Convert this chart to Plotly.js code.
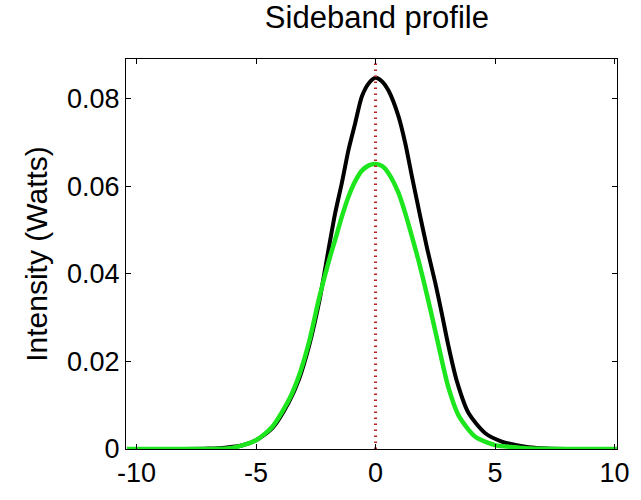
<!DOCTYPE html>
<html>
<head>
<meta charset="utf-8">
<script src="https://cdn.plot.ly/plotly-3.0.1.min.js"></script>
<style>html,body{margin:0;padding:0;background:#fff;}#chart{width:641px;height:500px;}</style>
</head>
<body>
<div id="chart"></div>
<script>
// Black profile
var blackX = [-10.4, -8, -7, -6.3, -5.6, -5.0, -4.3, -3.62, -3.2, -2.78, -2.36, -1.97, -1.69, -1.41, -1.13, -0.85, -0.57, -0.25, 0, 0.25, 0.54, 0.96, 1.24, 1.52, 1.87, 2.17, 2.50, 2.77, 3.05, 3.40, 3.89, 4.59, 5.28, 5.85, 6.4, 7.2, 8, 10.2];
var blackY = [0, 0, 0.0001, 0.0003, 0.0008, 0.0020, 0.0049, 0.0108, 0.0160, 0.0236, 0.0336, 0.0455, 0.0539, 0.0608, 0.0684, 0.0745, 0.0806, 0.0838, 0.0848, 0.0841, 0.0819, 0.0760, 0.0699, 0.0623, 0.0531, 0.0455, 0.0379, 0.0310, 0.0235, 0.0155, 0.0082, 0.0036, 0.0017, 0.0009, 0.0004, 0.0001, 0, 0];

// Green profile
var greenX = [-10.4, -7, -6.2, -5.8, -5.0, -4.32, -3.62, -3.2, -2.78, -2.36, -1.90, -1.69, -1.41, -1.13, -0.85, -0.57, -0.28, 0, 0.28, 0.54, 0.96, 1.24, 1.52, 1.80, 2.05, 2.36, 2.66, 3.05, 3.47, 4.17, 5.0, 5.85, 6.5, 8, 10.2];
var greenY = [0, 0, 0.0001, 0.0005, 0.0020, 0.0051, 0.0113, 0.0168, 0.0245, 0.0345, 0.0440, 0.0478, 0.0531, 0.0577, 0.0612, 0.0636, 0.0648, 0.0651, 0.0646, 0.0630, 0.0585, 0.0539, 0.0486, 0.0430, 0.0375, 0.0303, 0.0230, 0.0140, 0.0077, 0.0028, 0.0009, 0.0004, 0.0001, 0, 0];

// Centre marker
var markerX = [0, 0];
var markerY = [0, 0.095];

var xTicks = [-10, -5, 0, 5, 10];
var xTickText = ['-10', '-5', '0', '5', '10'];
var yTicks = [0, 0.02, 0.04, 0.06, 0.08];
var yTickText = ['0', '0.02', '0.04', '0.06', '0.08'];

var FONT = '"Liberation Sans", Arial, Helvetica, sans-serif';

var traces = [
  {x: blackX, y: blackY, type: 'scatter', mode: 'lines',
   line: {color: '#000000', width: 4, shape: 'spline', smoothing: 0.7}, hoverinfo: 'skip'},
  {x: greenX, y: greenY, type: 'scatter', mode: 'lines',
   line: {color: '#1ee61e', width: 4.5, shape: 'spline', smoothing: 0.7}, hoverinfo: 'skip'},
  {x: markerX, y: markerY, type: 'scatter', mode: 'lines',
   line: {color: '#b82222', width: 3, dash: '1.5px,4.5px'}, hoverinfo: 'skip'}
];

var axisCommon = {
  showline: true, linecolor: '#000', linewidth: 1, mirror: 'ticks',
  ticks: 'inside', ticklen: 5, tickwidth: 1, tickcolor: '#000',
  showgrid: false, zeroline: false,
  tickfont: {family: FONT, size: 27, color: '#000'}
};

var layout = {
  width: 641, height: 500,
  margin: {l: 126, r: 24, t: 59, b: 51, pad: 0},
  paper_bgcolor: '#fff', plot_bgcolor: '#fff',
  showlegend: false,
  title: {text: 'Sideband profile', font: {family: FONT, size: 31, color: '#000'},
          x: 0.511, xref: 'paper', xanchor: 'center', y: 0.965, yref: 'container', yanchor: 'middle'},
  xaxis: Object.assign({}, axisCommon, {range: [-10.44, 10.1], tickmode: 'array', tickvals: xTicks, ticktext: xTickText}),
  yaxis: Object.assign({}, axisCommon, {range: [0, 0.0891], tickmode: 'array', tickvals: yTicks, ticktext: yTickText,
          title: {text: 'Intensity (Watts)', font: {family: FONT, size: 30, color: '#000'}, standoff: 10}})
};

Plotly.newPlot('chart', traces, layout, {displayModeBar: false, staticPlot: true});
</script>
</body>
</html>
